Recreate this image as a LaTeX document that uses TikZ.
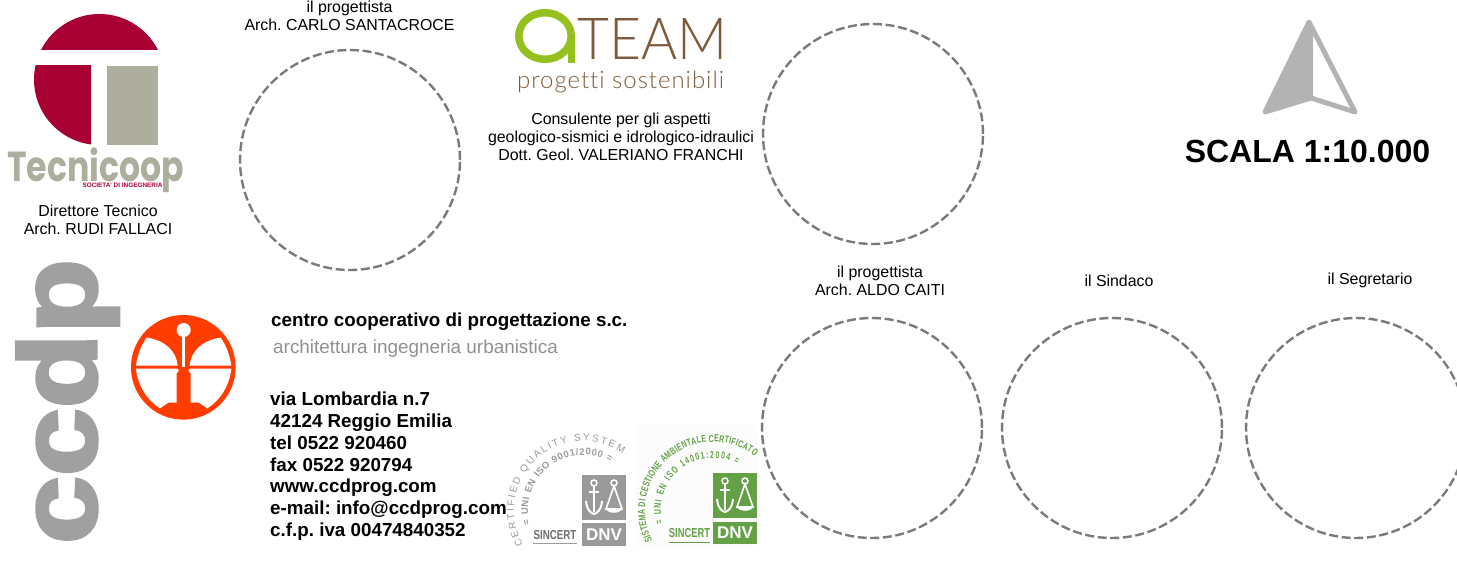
\documentclass[tikz,border=0pt]{standalone}
\usepackage{fontspec}
\setmainfont{Liberation Sans}
\newfontfamily\popp{Poppins}
\newfontfamily\latolight{Lato Light}
\newfontfamily\latospaced[LetterSpace=4,Ligatures=NoCommon]{Lato Light}
\newfontfamily\heavy[FakeBold=3]{Liberation Sans Bold}
\newfontfamily\condfont[FakeStretch=0.7]{Liberation Sans Bold}
\AtBeginDocument{\frenchspacing}
\usetikzlibrary{decorations.text}
\definecolor{crim}{HTML}{A90034}
\definecolor{tgray}{HTML}{AEAE9F}
\definecolor{ccgray}{HTML}{A0A0A0}
\definecolor{orng}{HTML}{FF3D00}
\definecolor{agreen}{HTML}{95C11F}
\definecolor{abrown}{HTML}{7B5B3A}
\definecolor{arrowg}{HTML}{B3B3B3}
\definecolor{dashg}{HTML}{7A7A7A}
\definecolor{cgreen}{HTML}{63A046}
\definecolor{sgray}{HTML}{9A9A9A}
\tikzset{
  x=1pt,y=-1pt,
  sig/.style={circle,draw=dashg,line width=2.4pt,dash pattern=on 9pt off 3.6pt,minimum size=220pt,inner sep=0pt},
  small/.style={inner sep=0pt,align=center,font=\fontsize{15.9}{18}\selectfont},
  bold/.style={inner sep=0pt,anchor=base west,font=\fontsize{18.8}{21.9}\selectfont\bfseries},
  anchormark/.pic={
    \draw[white,line width=1.5pt] (12,8) circle (3);
    \draw[white,line width=1.8pt] (12,11) -- (12,37) (7,17) -- (17,17);
    \draw[white,line width=2pt] (4,26) .. controls (5,36) and (9,38) .. (12,39) .. controls (15,38) and (19,36) .. (20,26);
    \draw[white,line width=1.5pt] (32,8) circle (3);
    \draw[white,line width=1.6pt] (32,11) -- (24,34) -- (40,34) -- cycle;
    \fill[white] (24,34) .. controls (26,39) and (38,39) .. (40,34) -- cycle;
  }
}
\begin{document}
\begin{tikzpicture}
\useasboundingbox (0,0) rectangle (1457,567);
% Tecnicoop logo
\begin{scope}
  \clip (30,10) rectangle (165,50);
  \fill[crim] (99.5,79.5) circle (65.5);
\end{scope}
\begin{scope}
  \clip (30,66) rectangle (91,150);
  \fill[crim] (99.5,79.5) circle (65.5);
\end{scope}
\fill[tgray] (107,66) rectangle (158,145);
\node[inner sep=0pt,text=tgray,font=\fontsize{42}{42}\selectfont\popp\bfseries,anchor=base west,xscale=0.79] (tecnicoop) at (7,182) {Tecnicoop};
\node[inner sep=0pt,text=crim,font=\fontsize{6.4}{8}\selectfont\bfseries] (societa) at (122.5,185.5) {SOCIETA' DI INGEGNERIA};
\node[small] (dir) at (98,220) {Direttore Tecnico\\Arch. RUDI FALLACI};
% ccdp
\node[inner sep=0pt,rotate=90,anchor=base west,text=ccgray,font=\fontsize{122}{122}\heavy,yscale=0.9] (ccdp) at (96,544) {ccdp};
% orange logo
\begin{scope}[shift={(125,310)},scale=0.33333]
  \fill[orng] (175,172) circle (157);
  \fill[white] (33,167) .. controls (38,130) and (50,105) .. (65,83) .. controls (120,90) and (155,125) .. (158,167) -- cycle;
  \fill[white] (319,167) .. controls (314,130) and (302,105) .. (287,83) .. controls (232,90) and (197,125) .. (194,167) -- cycle;
  \fill[white] (33,176) .. controls (38,225) and (65,270) .. (105,295) -- (130,278) -- (155,278) -- (155,190) -- (162,182) -- (158,176) -- cycle;
  \fill[white] (319,176) .. controls (314,225) and (287,270) .. (247,295) -- (222,278) -- (197,278) -- (197,190) -- (190,182) -- (194,176) -- cycle;
  \fill[white] (176,60) circle (21);
  \fill[white] (172,78) rectangle (180,172);
\end{scope}
% centro
\node[bold] (centro) at (271,326) {centro cooperativo di progettazione s.c.};
\node[inner sep=0pt,anchor=base west,text=ccgray!90!black,font=\fontsize{18.9}{21}\selectfont] (arch) at (273,353) {architettura ingegneria urbanistica};
\node[bold,align=left,anchor=north west] (addr) at (270,391.5) {via Lombardia n.7\\42124 Reggio Emilia\\tel 0522 920460\\fax 0522 920794\\www.ccdprog.com\\e-mail: info@ccdprog.com\\c.f.p. iva 00474840352};
% top texts
\node[small] (prog1) at (349.5,16) {il progettista\\Arch. CARLO SANTACROCE};
\node[small] (cons) at (621,137) {Consulente per gli aspetti\\geologico-sismici e idrologico-idraulici\\Dott. Geol. VALERIANO FRANCHI};
\node[small] (prog2) at (880,281) {il progettista\\Arch. ALDO CAITI};
\node[small] (sind) at (1119,281) {il Sindaco};
\node[small] (segr) at (1370,280) {il Segretario};
% pale ground of the green mark
\fill[black!1] (635,425) rectangle (758,546);
% signature circles
\begin{scope}
\clip (0,0) rectangle (1457,567);
\node[sig] (c1) at (350,160) {};
\node[sig] (c2) at (873,134) {};
\node[sig] (c3) at (872,428) {};
\node[sig] (c4) at (1112,428) {};
\node[sig] (c5) at (1356,428) {};
\end{scope}
% aTEAM
\draw[agreen,line width=7.5pt] (545,36) ellipse (26.2 and 23.3);
\fill[agreen] (568,36) rectangle (575,63);
\node[inner sep=0pt,anchor=base west,text=abrown,font=\fontsize{58}{58}\selectfont\latolight,xscale=0.95] (team) at (577,60) {TEAM};
\node[inner sep=0pt,anchor=base west,text=abrown,font=\fontsize{24}{24}\selectfont\latospaced] (pros) at (517,89) {progetti sostenibili};
% north arrow
\fill[arrowg] (1309,22) -- (1265,112) -- (1313,98) -- (1313,28) -- cycle;
\draw[arrowg,line width=5pt,line join=round] (1309,22) -- (1265,112) -- (1311,98) -- (1355,112) -- cycle;
\node[inner sep=0pt,font=\fontsize{32}{32}\selectfont\bfseries] (scala) at (1307.5,151) {SCALA 1:10.000};
% certificates gray
\fill[sgray] (582,475) rectangle (626,520);
\fill[sgray] (582,523) rectangle (626,546);
\pic at (582,475) {anchormark};
\node[inner sep=0pt,text=white,font=\fontsize{17}{17}\selectfont\bfseries] (dnv1) at (604,534.5) {DNV};
\node[inner sep=0pt,text=sgray!70!black,font=\fontsize{13}{13}\selectfont\bfseries,xscale=0.75] (sin1) at (555,535) {SINCERT};
\fill[sgray] (533,542.5) rectangle (577,544);
\path[decorate,decoration={text along path,text align={fit to path},text={|\fontsize{10}{10}\selectfont\color{sgray}|CERTIFIED QUALITY SYSTEM}}] (583,510) ++(150:69) arc (150:305:69);
\path[decorate,decoration={text along path,text align={fit to path},text={|\fontsize{9.5}{10}\selectfont\bfseries\color{sgray}|= UNI EN ISO 9001/2000 =}}] (583,510) ++(165:55) arc (165:300:55);
% certificates green
\fill[cgreen] (713,473) rectangle (757,518);
\fill[cgreen] (713,522) rectangle (757,544);
\pic at (713,473) {anchormark};
\node[inner sep=0pt,text=white,font=\fontsize{17}{17}\selectfont\bfseries] (dnv2) at (735,533) {DNV};
\node[inner sep=0pt,text=cgreen,font=\fontsize{13}{13}\selectfont\bfseries,xscale=0.72] (sin2) at (689.5,533.5) {SINCERT};
\fill[cgreen] (669,541.5) rectangle (710,543);
\path[decorate,decoration={text along path,text align={fit to path},text={|\fontsize{10}{10}\selectfont\condfont\color{cgreen}|SISTEMA DI CESTIONE AMBIENTALE CERTIFICATO}}] (713,510) ++(153:68) arc (153:308:68);
\path[decorate,decoration={text along path,text align={fit to path},text={|\fontsize{10}{10}\selectfont\condfont\color{cgreen}|= UNI EN ISO 14001:2004 =}}] (713,510) ++(165:52) arc (165:298:52);
\end{tikzpicture}
\end{document}
